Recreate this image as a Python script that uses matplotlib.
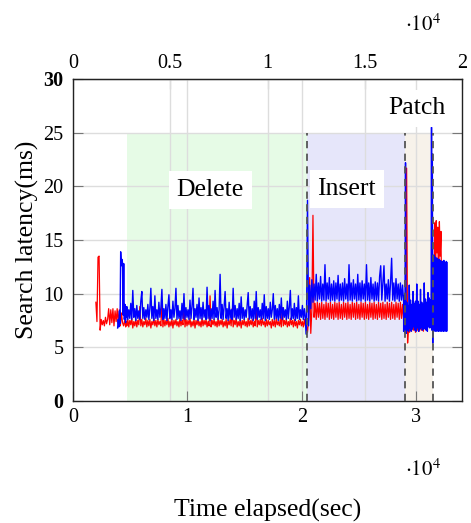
import numpy as np
import matplotlib
matplotlib.use("Agg")
import matplotlib.pyplot as plt
from matplotlib.ticker import FuncFormatter

plt.rcParams['font.family'] = ['Liberation Serif', 'DejaVu Serif']
plt.rcParams['mathtext.fontset'] = 'stix'

# phase boundaries (sec)
phase_names = ["Delete", "Insert", "Patch"]
phase_start = [4700, 20450, 29000]
phase_end = [20450, 29000, 31500]
phase_colors = ["#e6fbe6", "#e6e6fa", "#f7f2ea"]
phase_top = 25
label_x = [11990, 23930, 30100]
label_y = [19.1, 19.2, 26.7]

# red series, piece by piece (start, end, values)
red_pre = [9.2, 7.4, 13.4, 13.5, 6.6, 7.6, 7.1, 7.5, 7.0, 7.8, 7.2, 7.6, 8.6, 7.1, 8.5,
           7.3, 8.6, 7.0, 8.4, 7.4, 8.6, 7.2, 8.5, 7.0, 8.2, 7.3, 7.0, 7.5, 6.9, 7.4]
red_delete = [7.0, 7.6, 6.9, 7.5, 7.1, 7.7, 6.8, 7.4, 7.0, 7.6, 6.9, 7.5, 7.1, 8.8, 7.0, 7.6, 6.9, 7.4, 7.1, 7.7,
              6.9, 7.5, 7.0, 7.6, 6.8, 7.4, 7.1, 7.7, 7.0, 7.5, 6.9, 7.6, 7.1, 7.4, 7.0, 9.4, 6.9, 7.6, 7.0, 7.5,
              7.1, 7.7, 6.9, 7.4, 7.0, 7.6, 6.8, 7.5, 7.1, 7.6, 7.0, 7.4, 6.9, 7.7, 7.0, 7.5, 7.1, 8.9, 6.9, 7.6,
              7.0, 7.5, 7.1, 7.7, 6.9, 7.4, 7.0, 7.6, 6.8, 7.5, 7.1, 7.6, 7.0, 7.4, 6.9, 7.7, 7.0, 7.5, 7.1, 7.6,
              6.9, 7.4, 7.0, 9.8, 6.9, 7.5, 7.1, 7.6, 7.0, 7.4, 6.9, 7.7, 7.0, 7.5, 7.1, 7.6, 6.9, 7.4, 7.0, 7.6,
              6.8, 7.5, 7.1, 7.6, 7.0, 8.6, 6.9, 7.5, 7.1, 7.7, 6.9, 7.4, 7.0, 7.6, 6.8, 7.5, 7.1, 7.6, 7.0, 7.4,
              6.9, 7.7, 7.0, 7.5, 7.1, 7.6, 6.9, 7.4, 7.0, 9.1, 6.9, 7.5, 7.1, 7.6, 7.0, 7.7, 7.1, 7.4, 6.9, 7.6,
              7.0, 7.5, 7.1, 7.4, 6.8, 7.6, 7.0, 7.5, 6.9, 7.7, 7.1, 7.4, 7.0, 7.6, 6.9, 8.7, 7.0, 7.5, 7.1, 7.6,
              6.9, 7.4, 7.0, 7.7, 7.1, 7.5, 6.9, 7.6, 7.0, 7.4, 6.8, 7.5, 7.1, 7.6, 7.0, 7.4, 6.9, 7.6, 7.0, 7.5]
red_insert = [7.0, 6.4, 7.6, 11.5, 6.3, 8.5, 17.3, 7.8, 9.1, 7.6,
              9.2, 7.8, 9.1, 7.6, 9.2, 7.7, 9.0, 7.6, 9.2, 7.8,
              9.1, 7.6, 9.2, 7.7, 9.0, 7.6, 9.2, 7.8, 9.1, 7.6,
              9.2, 7.7, 9.0, 7.6, 9.2, 7.8, 9.1, 7.6, 9.2, 7.7,
              9.0, 7.6, 9.2, 7.8, 9.1, 7.6, 9.2, 7.7, 9.0, 7.6,
              9.2, 7.8, 9.1, 7.6, 9.2, 7.7, 9.0, 7.6, 9.2, 7.8,
              9.1, 7.6, 9.2, 7.7, 9.0, 7.6, 9.2, 7.8, 9.1, 7.6,
              9.2, 7.7, 9.0, 7.6, 9.2, 7.8, 9.1, 7.6, 9.2, 7.7,
              9.0, 7.6, 9.2, 7.8, 9.1, 7.6, 9.2, 7.7, 9.0, 7.6]
red_patch = [7.5, 6.5, 8.0, 21.7, 5.4, 7.2, 6.4, 7.3, 6.5, 7.1, 6.6, 7.3, 6.4, 7.2, 6.6,
             7.4, 6.5, 7.2, 6.6, 7.3, 6.5, 7.4, 6.7, 8.2, 6.8, 8.5, 7.0, 8.4, 7.2, 8.3]
red_post = [8.4, 12.0, 7.0, 16.6, 9.5, 16.8, 13.8, 16.2, 9.0, 16.7, 13.5, 15.8, 8.0, 13.0]
red_pieces = [(2000, 4700, red_pre), (4700, 20400, red_delete), (20400, 28900, red_insert),
              (28900, 31400, red_patch), (31400, 32300, red_post)]

# blue series
blue_pre = [6.8, 7.6, 6.9, 8.4, 7.2, 13.9, 12.6, 13.2, 12.9, 8.0, 12.8, 7.6, 9.0, 7.3, 8.6, 7.8]
blue_delete = [8.8, 7.6, 8.5, 7.7, 9.1, 7.6, 10.3, 7.8, 8.6, 7.5, 8.9, 7.7, 8.4, 7.6, 9.3, 10.2, 7.7, 8.7, 7.6, 8.5,
               7.8, 9.0, 7.6, 8.6, 10.5, 7.7, 8.8, 7.5, 9.8, 7.7, 8.5, 7.6, 9.2, 7.8, 8.7, 10.4, 7.6, 8.6, 7.7, 9.0,
               7.5, 8.8, 9.9, 7.7, 8.5, 7.6, 9.3, 7.8, 8.6, 10.5, 7.6, 8.9, 7.7, 8.4, 7.5, 9.1, 7.7, 10.0, 7.6, 8.7,
               7.8, 8.5, 7.6, 9.4, 7.7, 8.8, 10.5, 7.6, 8.6, 7.8, 9.0, 7.5, 9.6, 7.7, 8.7, 7.6, 9.2, 7.8, 8.5, 7.6,
               10.6, 7.7, 8.9, 7.5, 8.6, 7.7, 9.3, 7.6, 10.3, 7.8, 8.7, 7.6, 8.5, 11.8, 7.7, 9.0, 7.6, 8.8, 10.2, 7.7,
               8.6, 7.5, 9.2, 7.7, 8.5, 7.6, 10.5, 7.8, 8.9, 7.6, 8.6, 7.7, 9.1, 7.5, 9.7, 7.7, 8.7, 7.6, 8.5, 7.8,
               9.0, 10.1, 7.6, 8.8, 7.7, 8.6, 7.5, 9.3, 7.7, 10.2, 7.6, 8.7, 7.8, 8.5, 7.6, 9.1, 7.7, 9.9, 7.5, 8.8,
               7.7, 8.6, 7.6, 9.2, 7.8, 8.5, 10.0, 7.6, 8.9, 7.7, 8.6, 7.5, 9.0, 7.7, 9.6, 7.6, 8.7, 7.8, 8.5, 7.6,
               9.3, 7.7, 8.8, 10.3, 7.6, 8.6, 7.7, 9.1, 7.5, 8.7, 7.7, 9.8, 7.6, 8.5, 7.8, 8.9, 7.6, 8.6, 7.7, 6.2]
blue_insert = [6.2, 18.7, 7.0, 10.8, 8.6, 11.3, 9.2, 10.9, 9.4, 11.8,
               9.3, 11.0, 9.5, 11.6, 9.3, 10.9, 9.4, 12.7, 9.3, 11.0,
               9.5, 11.5, 9.3, 10.9, 9.4, 11.2, 9.3, 11.0, 9.5, 11.7,
               9.3, 10.9, 9.4, 11.0, 9.3, 11.4, 9.5, 10.9, 9.3, 12.7,
               9.4, 11.0, 9.3, 11.3, 9.5, 10.9, 9.3, 11.8, 9.4, 11.0,
               9.3, 11.2, 9.5, 10.9, 9.3, 12.7, 9.4, 11.0, 9.3, 11.5,
               9.5, 10.9, 9.3, 11.1, 9.4, 11.0, 9.3, 11.6, 12.6, 9.4,
               11.0, 12.6, 9.3, 10.9, 9.5, 11.3, 9.3, 11.0, 13.3, 9.4,
               11.0, 9.3, 11.4, 9.5, 10.9, 9.3, 11.0, 9.4, 10.8, 9.2]
blue_patch = [6.5, 9.8, 6.4, 22.2, 6.3, 9.2, 6.6, 8.9, 6.5, 10.8, 6.8, 9.4, 6.5, 9.0, 6.7,
              10.2, 6.9, 9.1, 6.6, 9.3, 6.5, 10.9, 6.8, 9.3, 6.5, 9.0, 6.7, 10.4, 6.9, 9.2,
              6.6, 9.0, 6.7, 11.0, 6.8, 9.5, 6.6, 9.2, 6.5, 10.1, 6.9, 9.6, 6.8, 9.4, 7.0]
blue_post = [9.8, 25.5, 6.6, 23.0, 5.4, 13.4, 6.5, 13.6, 6.6, 13.2, 6.5, 13.4, 6.6, 13.0,
             6.5, 13.3, 6.7, 12.9, 6.5, 13.2, 6.6, 12.8, 6.5, 13.1, 6.6, 12.9, 6.5, 13.0,
             6.7, 12.8, 6.5, 13.1, 6.6, 12.9, 6.5, 12.8, 6.6, 13.0, 6.5, 12.9]
blue_pieces = [(3900, 4700, blue_pre), (4700, 20400, blue_delete), (20400, 28900, blue_insert),
               (28900, 31300, blue_patch), (31300, 32700, blue_post)]

x_ticks = [0, 10000, 20000, 30000]
top_ticks = [0, 5000, 10000, 15000, 20000]
y_ticks = [0, 5, 10, 15, 20, 25, 30]


def join_pieces(pieces):
    ts, vs = [], []
    for t0, t1, vals in pieces:
        ts.append(np.linspace(t0, t1, len(vals)))
        vs.append(np.array(vals))
    return np.concatenate(ts), np.concatenate(vs)


fig = plt.figure(figsize=(4.71, 5.23), dpi=100)
ax = fig.add_axes([73 / 471, 1 - 401 / 523, 389 / 471, 322 / 523])
ax.set_xlim(0, 34000)
ax.set_ylim(0, 30)

# top axis is just a rescaled view of the bottom one
scale = 20000 / 34000
sec = ax.secondary_xaxis('top', functions=(lambda x: x * scale, lambda x: x / scale))

# shaded phases + dashed separators
for x0, x1, c in zip(phase_start, phase_end, phase_colors):
    ax.fill_between([x0, x1], 0, phase_top, color=c, lw=0, zorder=0.2)
ax.vlines(phase_start[1:] + phase_end[-1:], 0, phase_top, colors='#555555',
          linestyles=(0, (4, 3)), lw=1.3, zorder=3)

# grids
ax.set_axisbelow(True)
ax.grid(True, color='#dddddd', lw=1)
for t in top_ticks[1:-1]:
    ax.axvline(t / scale, color='#dddddd', lw=1, zorder=0.5)

rx, ry = join_pieces(red_pieces)
bx, by = join_pieces(blue_pieces)
ax.plot(rx, ry, color='#ff0000', lw=0.9, zorder=2)
ax.plot(bx, by, color='#0000ff', lw=1.0, zorder=2.1)

for name, x, y in zip(phase_names, label_x, label_y):
    ax.text(x, y, name, fontsize=18.5, ha='center', va='baseline', zorder=4,
            bbox=dict(boxstyle='square,pad=0.3', fc='white', ec='none'))

# ticks and spines
fmt = FuncFormatter(lambda v, p: f"{v / 1e4:g}")
ax.set_xticks(x_ticks)
ax.xaxis.set_major_formatter(fmt)
ax.set_yticks(y_ticks)
ax.tick_params(axis='both', direction='in', length=7, width=0.8, color='#777777',
               labelsize=14.5, pad=5)
ax.tick_params(axis='y', right=True, pad=7)
sec.set_xticks(top_ticks)
sec.xaxis.set_major_formatter(fmt)
sec.tick_params(direction='in', length=7, width=0.8, color='#777777', labelsize=14.5, pad=4)
for s in ax.spines.values():
    s.set_color('#222222')
    s.set_linewidth(1.0)
sec.spines['top'].set_color('#222222')
for lab in ax.get_yticklabels():
    if lab.get_text() in ("0", "30"):
        lab.set_fontweight('bold')

fig.text(423 / 471, 1 - 470 / 523, r'$\cdot 10^{4}$', fontsize=15, ha='center', va='center')
fig.text(423 / 471, 1 - 25 / 523, r'$\cdot 10^{4}$', fontsize=15, ha='center', va='center')
fig.text(267.5 / 471, 1 - 510 / 523, 'Time elapsed(sec)', fontsize=18.5, ha='center', va='center')
fig.text(27 / 471, 1 - 240 / 523, 'Search latency(ms)', fontsize=18.5, ha='center',
         va='center', rotation=90)

fig.savefig('out.png', dpi=100)
